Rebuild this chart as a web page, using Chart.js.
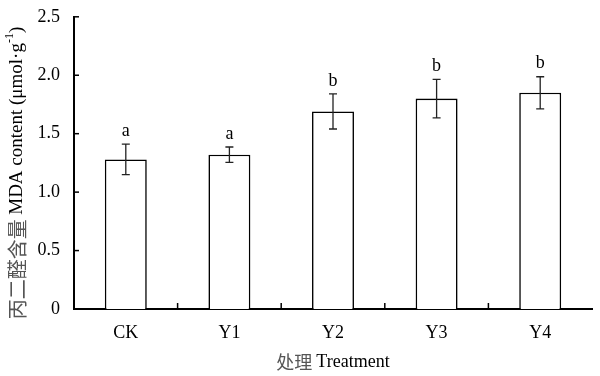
<!DOCTYPE html>
<html>
<head>
<meta charset="utf-8">
<script src="https://cdn.jsdelivr.net/npm/chart.js@4"></script>
<style>
    html, body { margin: 0; padding: 0; background: #fff; }
    #wrap { width: 600px; height: 376px; }
</style>
</head>
<body>
<div id="wrap"><canvas id="mdaChart"></canvas></div>
<script>
// MDA content by treatment
const categories = ['CK', 'Y1', 'Y2', 'Y3', 'Y4'];
const mdaMeans = [1.28, 1.32, 1.69, 1.80, 1.85];
const mdaErrors = [0.13, 0.066, 0.15, 0.165, 0.137];
const sigLetters = ['a', 'a', 'b', 'b', 'b'];
const yTickValues = [0, 0.5, 1.0, 1.5, 2.0, 2.5];

const serif = "'Liberation Serif', 'Times New Roman', serif";
const cjk = "'Noto Sans CJK SC', sans-serif";

// error bars, letters, inward ticks, axis titles
const extrasPlugin = {
    id: 'extras',
    afterDatasetsDraw(chart) {
        const ctx = chart.ctx;
        const x = chart.scales.x;
        const y = chart.scales.y;
        const area = chart.chartArea;
        ctx.save();

        // error bars
        ctx.strokeStyle = '#222';
        ctx.lineWidth = 1.3;
        mdaMeans.forEach((m, i) => {
            const cx = x.getPixelForValue(i);
            const top = y.getPixelForValue(m + mdaErrors[i]);
            const bot = y.getPixelForValue(m - mdaErrors[i]);
            ctx.beginPath();
            ctx.moveTo(cx, top); ctx.lineTo(cx, bot);
            ctx.moveTo(cx - 4, top); ctx.lineTo(cx + 4, top);
            ctx.moveTo(cx - 4, bot); ctx.lineTo(cx + 4, bot);
            ctx.stroke();

            ctx.fillStyle = '#000';
            ctx.font = '18px ' + serif;
            ctx.textAlign = 'center';
            ctx.textBaseline = 'bottom';
            ctx.fillText(sigLetters[i], cx, top - 4);
        });

        // inward y ticks
        ctx.strokeStyle = '#000';
        ctx.lineWidth = 1.5;
        yTickValues.forEach(v => {
            const py = y.getPixelForValue(v);
            ctx.beginPath();
            ctx.moveTo(area.left, py);
            ctx.lineTo(area.left + 5, py);
            ctx.stroke();
        });

        // inward x ticks at category boundaries
        for (let i = 0; i < categories.length - 1; i++) {
            const px = (x.getPixelForValue(i) + x.getPixelForValue(i + 1)) / 2;
            ctx.beginPath();
            ctx.moveTo(px, area.bottom);
            ctx.lineTo(px, area.bottom - 6);
            ctx.stroke();
        }

        // x title
        ctx.textBaseline = 'middle';
        ctx.textAlign = 'left';
        const xcn = '处理 ';
        const xen = 'Treatment';
        ctx.font = '18px ' + cjk;
        const w1 = ctx.measureText(xcn).width;
        ctx.font = '18px ' + serif;
        const w2 = ctx.measureText(xen).width;
        let sx = (area.left + area.right) / 2 - (w1 + w2) / 2;
        ctx.font = '18px ' + cjk;
        ctx.fillStyle = '#555';
        ctx.fillText(xcn, sx, 362);
        ctx.font = '18px ' + serif;
        ctx.fillStyle = '#000';
        ctx.fillText(xen, sx + w1, 362);

        // y title, rotated
        ctx.translate(17, 173);
        ctx.rotate(-Math.PI / 2);
        const ycn = '丙二醛含量 ';
        const yen = 'MDA content (μmol·g';
        const sup = '-1';
        const yend = ')';
        ctx.font = '20px ' + cjk;
        const a1 = ctx.measureText(ycn).width;
        ctx.font = '19px ' + serif;
        const a2 = ctx.measureText(yen).width;
        const a4 = ctx.measureText(yend).width;
        ctx.font = '12px ' + serif;
        const a3 = ctx.measureText(sup).width;
        let tx = -(a1 + a2 + a3 + a4) / 2;
        ctx.font = '20px ' + cjk;
        ctx.fillStyle = '#555';
        ctx.fillText(ycn, tx, 0);
        tx += a1;
        ctx.font = '19px ' + serif;
        ctx.fillStyle = '#000';
        ctx.fillText(yen, tx, 0);
        tx += a2;
        ctx.font = '12px ' + serif;
        ctx.fillText(sup, tx, -7);
        tx += a3;
        ctx.font = '19px ' + serif;
        ctx.fillText(yend, tx, 0);

        ctx.restore();
    }
};

function createMdaChart() {
    const ctx = document.getElementById('mdaChart');
    if (ctx) {
        new Chart(ctx, {
            type: 'bar',
            data: {
                labels: categories,
                datasets: [{
                    data: mdaMeans,
                    backgroundColor: '#ffffff',
                    borderColor: '#000000',
                    borderWidth: 1.6,
                    borderSkipped: 'bottom',
                    barPercentage: 0.405,
                    categoryPercentage: 1.0
                }]
            },
            options: {
                responsive: true,
                maintainAspectRatio: false,
                animation: false,
                layout: {
                    padding: { left: 0, right: 8, top: 15, bottom: 0 }
                },
                plugins: {
                    legend: { display: false },
                    tooltip: { enabled: false }
                },
                scales: {
                    x: {
                        grid: { display: false },
                        border: { display: true, color: '#000', width: 2 },
                        ticks: {
                            color: '#000',
                            font: { family: serif, size: 18 },
                            padding: 5
                        },
                        afterFit(scale) { scale.height = 67; }
                    },
                    y: {
                        min: 0,
                        max: 2.5,
                        grid: { display: false },
                        border: { display: true, color: '#000', width: 2 },
                        ticks: {
                            stepSize: 0.5,
                            color: '#000',
                            font: { family: serif, size: 18 },
                            padding: 6,
                            callback: v => (v === 0 ? '0' : v.toFixed(1))
                        },
                        afterFit(scale) { scale.width = 74; }
                    }
                }
            },
            plugins: [extrasPlugin]
        });
    }
}

document.addEventListener('DOMContentLoaded', function() {
    createMdaChart();
});
</script>
</body>
</html>
